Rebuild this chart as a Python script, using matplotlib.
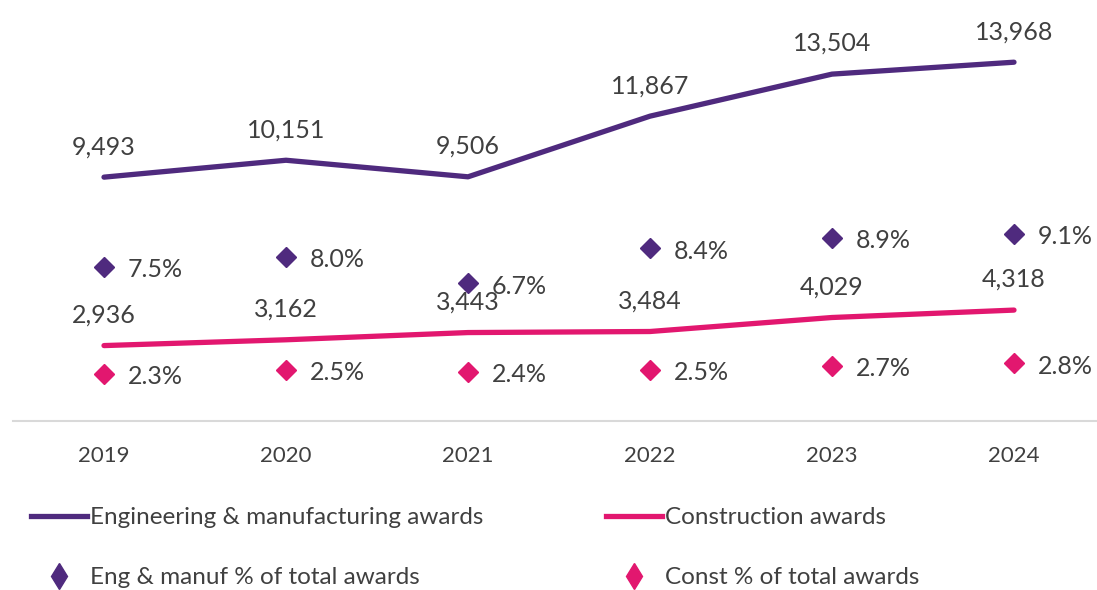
import matplotlib
matplotlib.use("Agg")
from matplotlib import pyplot as plt
from matplotlib.lines import Line2D

plt.rcParams['font.family'] = ['Lato', 'DejaVu Sans']

# datos
years = ["2019", "2020", "2021", "2022", "2023", "2024"]
eng_awards = [9493, 10151, 9506, 11867, 13504, 13968]
const_awards = [2936, 3162, 3443, 3484, 4029, 4318]
eng_pct = [7.5, 8.0, 6.7, 8.4, 8.9, 9.1]
const_pct = [2.3, 2.5, 2.4, 2.5, 2.7, 2.8]

purple = "#4F2A7E"
pink = "#E2176F"
txt = "#404040"

W, H = 1097, 590
fig = plt.figure(figsize=(W / 100, H / 100), dpi=100)
ax = fig.add_axes([13 / W, (H - 421) / H, (W - 13) / W, (421 - 10) / H])
ax2 = ax.twinx()

x = list(range(len(years)))
ax.plot(x, eng_awards, color=purple, lw=3.8, solid_capstyle='round')
ax.plot(x, const_awards, color=pink, lw=3.8, solid_capstyle='round')
ax2.plot(x, eng_pct, ls='none', marker='D', ms=10, color=purple)
ax2.plot(x, const_pct, ls='none', marker='D', ms=10, color=pink)

for serie in (eng_awards, const_awards):
    for xi, v in zip(x, serie):
        ax.annotate(f"{v:,}", (xi, v), xytext=(0, 22), textcoords='offset points',
                    ha='center', va='center', fontsize=18, color=txt)
for serie in (eng_pct, const_pct):
    for xi, v in zip(x, serie):
        ax2.annotate(f"{v:.1f}%", (xi, v), xytext=(17, -2), textcoords='offset points',
                     ha='left', va='center', fontsize=18, color=txt)

ax.set_xlim(-0.5, (W - 104) / 182)
ax.set_ylim(0, 16000)
ax2.set_ylim(0, 20)
for a in (ax, ax2):
    for s in ("top", "right", "left"):
        a.spines[s].set_visible(False)
    a.set_yticks([])
ax2.spines['bottom'].set_visible(False)
ax.spines['bottom'].set_color("#D9D9D9")
ax.spines['bottom'].set_linewidth(1.5)
ax.set_xticks(x)
ax.set_xticklabels(years, fontsize=16, color=txt)
ax.tick_params(axis='x', length=0, pad=18)

handles = [
    Line2D([], [], color=purple, lw=3.8),
    Line2D([], [], ls='none', marker='d', ms=13, color=purple),
    Line2D([], [], color=pink, lw=3.8),
    Line2D([], [], ls='none', marker='d', ms=13, color=pink),
]
labels = ["Engineering & manufacturing awards", "Eng & manuf % of total awards",
          "Construction awards", "Const % of total awards"]
leg = fig.legend(handles, labels, ncol=2, loc='upper left',
                 bbox_to_anchor=(19 / W, 1 - 495 / H), frameon=False,
                 fontsize=17.5, handlelength=2.3, handletextpad=0.12,
                 columnspacing=5.05, labelspacing=1.6, borderpad=0)
for t in leg.get_texts():
    t.set_color(txt)

fig.savefig("out.png", dpi=100)
